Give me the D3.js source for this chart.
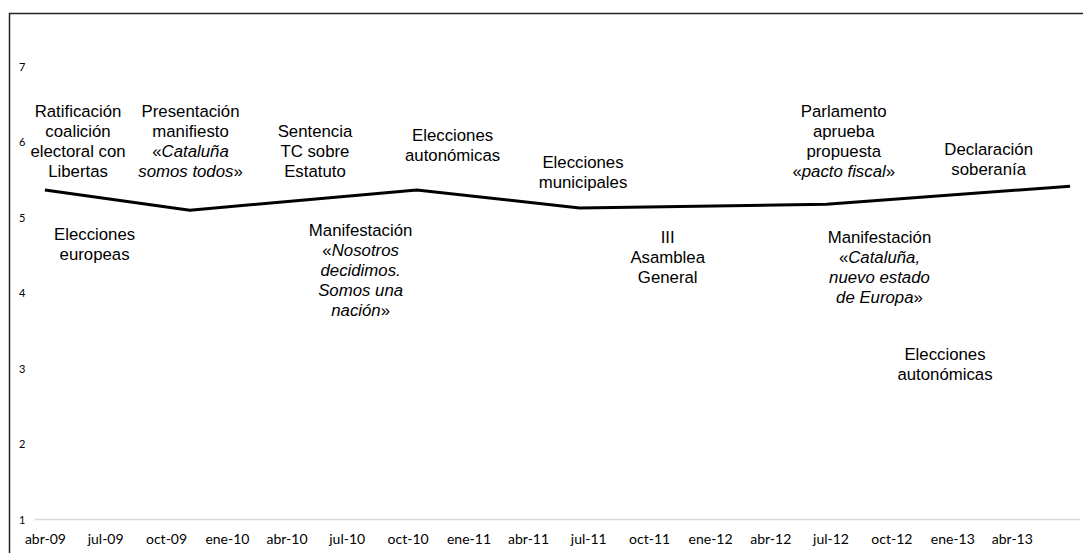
<!DOCTYPE html>
<html>
<head>
<meta charset="utf-8">
<script src="https://cdn.jsdelivr.net/npm/d3@7"></script>
<style>
  body { margin: 0; background: #fff; }
  svg { display: block; }
  .note { font-family: "Liberation Sans", Arial, sans-serif; font-size: 16.8px; fill: #000; }
  .tick text { font-family: Lato, "Open Sans", sans-serif; fill: #000; }
</style>
</head>
<body>
<svg width="1083" height="553"></svg>
<script>
// survey dates and values
var dates = ["2009-04-01", "2009-11-06", "2010-10-15", "2011-06-18", "2012-06-25", "2013-06-28"];
var values = [5.37, 5.10, 5.37, 5.13, 5.18, 5.42];

// axis ticks
var xTickDates = ["2009-04-01", "2009-07-01", "2009-10-01", "2010-01-01", "2010-04-01", "2010-07-01",
                  "2010-10-01", "2011-01-01", "2011-04-01", "2011-07-01", "2011-10-01", "2012-01-01",
                  "2012-04-01", "2012-07-01", "2012-10-01", "2013-01-01", "2013-04-01"];
var xTickLabels = ["abr-09", "jul-09", "oct-09", "ene-10", "abr-10", "jul-10", "oct-10", "ene-11", "abr-11",
                   "jul-11", "oct-11", "ene-12", "abr-12", "jul-12", "oct-12", "ene-13", "abr-13"];
var yTicks = [1, 2, 3, 4, 5, 6, 7];

// event notes: anchor date, value of first baseline, lines (*...* = italic)
var notes = [
  {date: "2009-05-21", value: 6.34, lines: ["Ratificación", "coalición", "electoral con", "Libertas"]},
  {date: "2009-11-07", value: 6.34, lines: ["Presentación", "manifiesto", "«*Cataluña*", "*somos todos*»"]},
  {date: "2010-05-14", value: 6.07, lines: ["Sentencia", "TC sobre", "Estatuto"]},
  {date: "2010-12-08", value: 6.02, lines: ["Elecciones", "autonómicas"]},
  {date: "2011-06-23", value: 5.66, lines: ["Elecciones", "municipales"]},
  {date: "2012-07-21", value: 6.34, lines: ["Parlamento", "aprueba", "propuesta", "«*pacto fiscal*»"]},
  {date: "2013-02-25", value: 5.83, lines: ["Declaración", "soberanía"]},
  {date: "2009-06-15", value: 4.71, lines: ["Elecciones", "europeas"]},
  {date: "2010-07-22", value: 4.76, lines: ["Manifestación", "«*Nosotros*", "*decidimos.*", "*Somos una*", "*nación*»"]},
  {date: "2011-10-29", value: 4.67, lines: ["III", "Asamblea", "General"]},
  {date: "2012-09-13", value: 4.67, lines: ["Manifestación", "«*Cataluña,*", "*nuevo estado*", "*de Europa*»"]},
  {date: "2012-12-21", value: 3.12, lines: ["Elecciones", "autonómicas"]}
];

var svg = d3.select("svg"),
    width = +svg.attr("width"),
    height = +svg.attr("height");

var parse = d3.timeParse("%Y-%m-%d");

var x = d3.scaleTime()
    .domain([parse("2009-03-17"), parse("2013-07-13")])
    .range([35, 1080]);
var y = d3.scaleLinear()
    .domain([1, 7])
    .range([519.5, 67]);

// outer frame (left and top edges only show)
svg.append("path")
    .attr("d", "M9.5," + height + "V13.5H" + width)
    .attr("fill", "none")
    .attr("stroke", "#262626")
    .attr("stroke-width", 1.5);

// baseline
svg.append("line")
    .attr("x1", x.range()[0])
    .attr("x2", x.range()[1])
    .attr("y1", y(1))
    .attr("y2", y(1))
    .attr("stroke", "#d9d9d9")
    .attr("stroke-width", 1.5);

var xAxis = d3.axisBottom(x)
    .tickValues(xTickDates.map(parse))
    .tickFormat(function(d, i) { return xTickLabels[i]; })
    .tickSize(0)
    .tickPadding(15);

svg.append("g")
    .attr("class", "axis axis--x")
    .attr("transform", "translate(0," + y(1) + ")")
    .call(xAxis)
    .call(function(g) { g.select(".domain").remove(); })
    .selectAll("text")
    .style("font-size", "14px");

var yAxis = d3.axisLeft(y)
    .tickValues(yTicks)
    .tickFormat(d3.format("d"))
    .tickSize(0)
    .tickPadding(0);

svg.append("g")
    .attr("class", "axis axis--y")
    .attr("transform", "translate(25.5,0)")
    .call(yAxis)
    .call(function(g) { g.select(".domain").remove(); })
    .selectAll("text")
    .style("font-size", "11px");

// main series
var line = d3.line()
    .x(function(d, i) { return x(parse(dates[i])); })
    .y(function(d) { return y(d); });

svg.append("path")
    .datum(values)
    .attr("fill", "none")
    .attr("stroke", "#000")
    .attr("stroke-width", 3)
    .attr("stroke-linejoin", "round")
    .attr("d", line);

// notes
var note = svg.selectAll(".note")
    .data(notes)
    .enter()
    .append("text")
    .attr("class", "note")
    .attr("text-anchor", "middle")
    .attr("transform", function(d) { return "translate(" + x(parse(d.date)) + "," + y(d.value) + ")"; });

note.each(function(d) {
  var t = d3.select(this);
  d.lines.forEach(function(s, i) {
    var row = t.append("tspan").attr("x", 0).attr("y", i * 20);
    s.split("*").forEach(function(part, j) {
      if (!part) return;
      row.append("tspan")
          .style("font-style", j % 2 ? "italic" : "normal")
          .text(part);
    });
  });
});
</script>
</body>
</html>
